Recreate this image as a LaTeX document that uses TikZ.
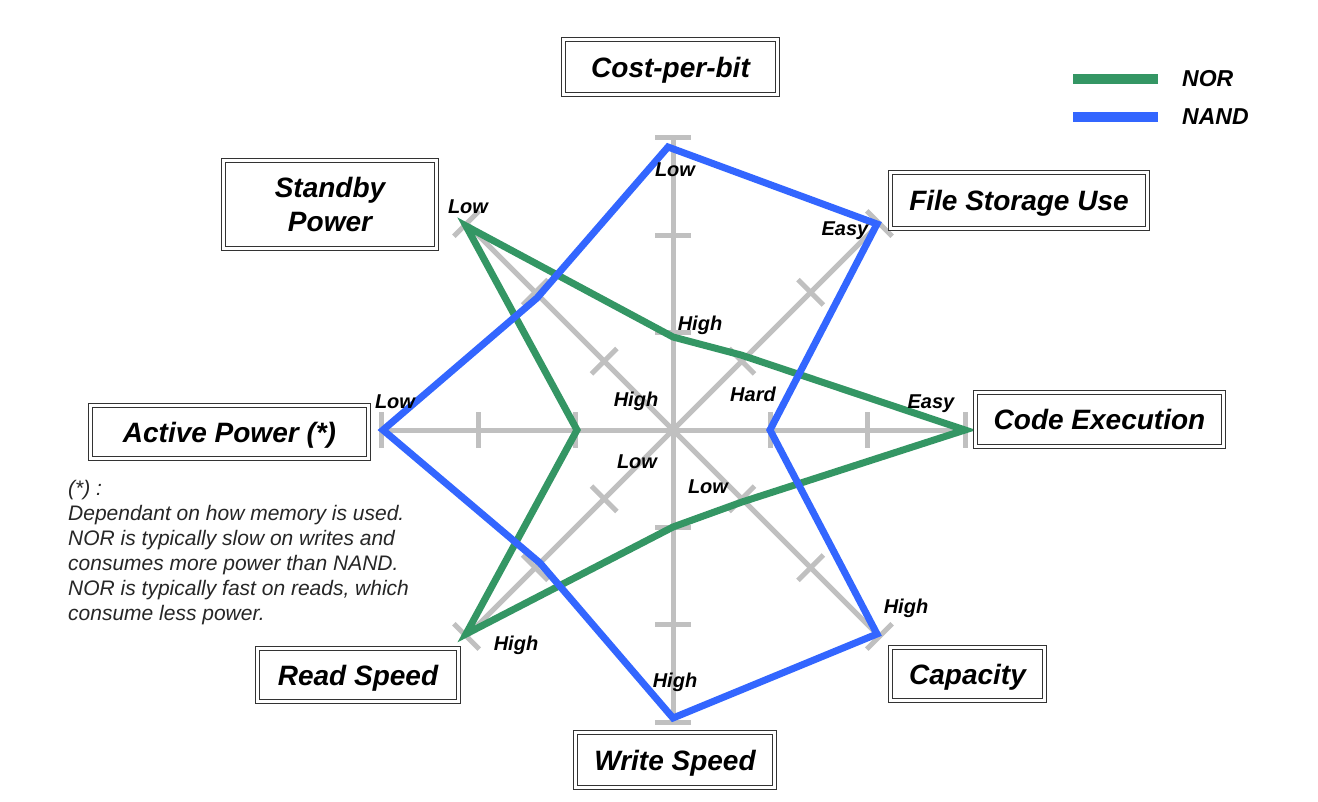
\documentclass[tikz,border=0pt]{standalone}
\usepackage{fontspec}
\setmainfont{Liberation Sans}
\definecolor{norgreen}{RGB}{52,150,100}
\definecolor{nandblue}{RGB}{51,102,255}
\definecolor{axisgray}{RGB}{192,192,192}
\newcommand{\boxfont}{\fontsize{28}{34}\selectfont\bfseries\itshape}
\newcommand{\tagfont}{\fontsize{20}{24}\selectfont\bfseries\itshape}
\newcommand{\legfont}{\fontsize{23}{28}\selectfont\bfseries\itshape}
\newcommand{\notefont}{\fontsize{21}{25}\selectfont\itshape}

\begin{document}
\begin{tikzpicture}[x=1pt,y=-1pt,
  catbox/.style={draw=black!80, double=white, double distance=2.2pt,
    line width=1.4pt, fill=white, inner sep=0pt, text depth=0pt,
    font=\boxfont, align=center},
  axisline/.style={axisgray, line width=5pt},
  tag/.style={font=\tagfont, inner sep=0pt},
  norline/.style={norgreen, line width=7pt, line join=miter},
  nandline/.style={nandblue, line width=7pt, line join=miter}]

% canvas
\useasboundingbox (0,0) rectangle (1318,802);
\fill[white] (0,0) rectangle (1318,802);

% radar axes with ticks at one, two and three thirds
\foreach \a in {0,45,...,315}{
  \begin{scope}[shift={(673,430)}, rotate=\a]
    \draw[axisline] (0,0) -- (292,0);
    \foreach \r in {97.3,194.7,292}
      \draw[axisline] (\r,-18) -- (\r,18);
  \end{scope}
}

% NOR profile
\coordinate (gCost)  at (673,337);
\coordinate (gFile)  at (741,355);
\coordinate (gCode)  at (965,430);
\coordinate (gCap)   at (742,502);
\coordinate (gWrite) at (673,527);
\coordinate (gRead)  at (466,634);
\coordinate (gAct)   at (577,430);
\coordinate (gStby)  at (466,226);
\draw[norline] (gCost) -- (gFile) -- (gCode) -- (gCap) -- (gWrite)
  -- (gRead) -- (gAct) -- (gStby) -- cycle;

% NAND profile
\coordinate (bCost)  at (668,147);
\coordinate (bFile)  at (877,224);
\coordinate (bCode)  at (770,430);
\coordinate (bCap)   at (877,634);
\coordinate (bWrite) at (673,718);
\coordinate (bRead)  at (540,563);
\coordinate (bAct)   at (383,430);
\coordinate (bStby)  at (537,298);
\draw[nandline] (bCost) -- (bFile) -- (bCode) -- (bCap) -- (bWrite)
  -- (bRead) -- (bAct) -- (bStby) -- cycle;

% value tags
\node[tag] (tCostLow)   at (675,170) {Low};
\node[tag] (tStbyLow)   at (468,207) {Low};
\node[tag] (tFileEasy)  at (845,231) {Easy};
\node[tag] (tCostHigh)  at (700,325) {High};
\node[tag] (tActHigh)   at (636,401) {High};
\node[tag] (tCodeHard)  at (753,394) {Hard};
\node[tag] (tReadLow)   at (637,462) {Low};
\node[tag] (tCapLow)    at (708,487) {Low};
\node[tag] (tActLow)    at (395,402) {Low};
\node[tag] (tCodeEasy)  at (931,404) {Easy};
\node[tag] (tReadHigh)  at (516,645) {High};
\node[tag] (tWriteHigh) at (675,682) {High};
\node[tag] (tCapHigh)   at (906,608) {High};

% category boxes
\node[catbox, minimum width=214pt, minimum height=55pt] (cost)  at (670.5,67)   {Cost-per-bit};
\node[catbox, minimum width=213pt, minimum height=88pt] (stby)  at (330,204.5)  {Standby\\Power};
\node[catbox, minimum width=257pt, minimum height=56pt] (file)  at (1019,200.5) {File Storage Use};
\node[catbox, minimum width=278pt, minimum height=53pt] (act)   at (229.5,432)  {Active Power (*)};
\node[catbox, minimum width=248pt, minimum height=54pt] (code)  at (1099.5,419.5){Code Execution};
\node[catbox, minimum width=201pt, minimum height=53pt] (read)  at (358,675)    {Read Speed};
\node[catbox, minimum width=154pt, minimum height=53pt] (cap)   at (967.5,674)  {Capacity};
\node[catbox, minimum width=199pt, minimum height=55pt] (write) at (675,760)    {Write Speed};

% legend
\coordinate (lgA) at (1073,79);
\coordinate (lgB) at (1158,79);
\coordinate (lbA) at (1073,117);
\coordinate (lbB) at (1158,117);
\draw[norgreen, line width=10pt] (lgA) -- (lgB);
\draw[nandblue, line width=10pt] (lbA) -- (lbB);
\node[font=\legfont, anchor=west, inner sep=0pt] (legNor)  at (1182,79)  {NOR};
\node[font=\legfont, anchor=west, inner sep=0pt] (legNand) at (1182,117) {NAND};

% footnote
\node[font=\notefont, anchor=north west, align=left, inner sep=0pt, text=black!85] (note) at (68,480)
  {(*) :\\
   Dependant on how memory is used.\\
   NOR is typically slow on writes and\\
   consumes more power than NAND.\\
   NOR is typically fast on reads, which\\
   consume less power.};
\end{tikzpicture}
\end{document}
